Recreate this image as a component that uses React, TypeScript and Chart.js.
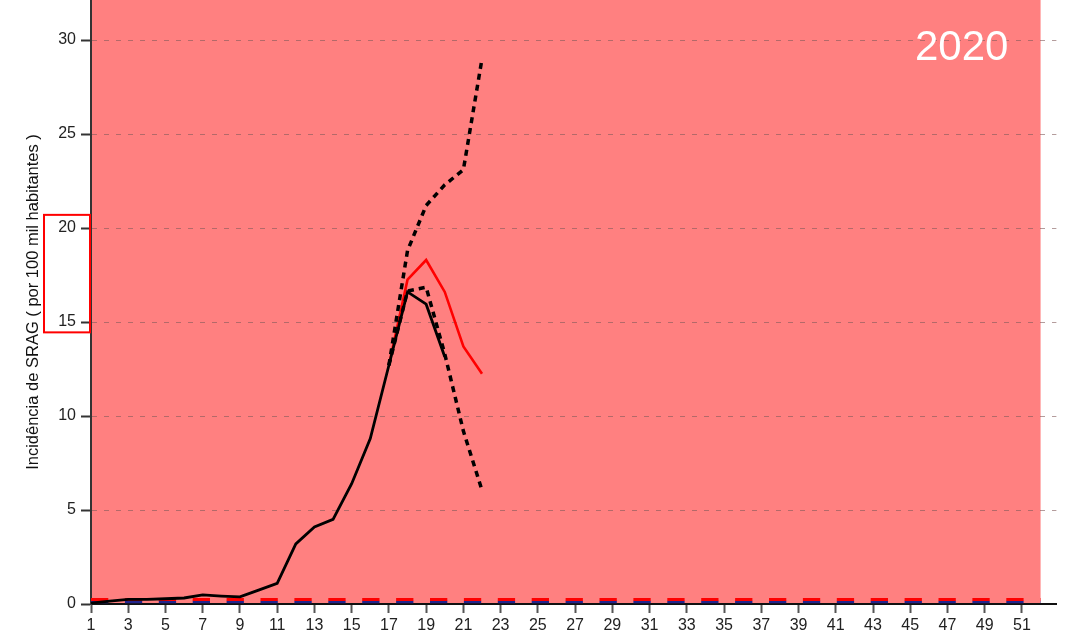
import { useEffect, useRef } from "react";
import { Chart, registerables } from "chart.js";

Chart.register(...registerables);

// ---- data ----
const observedWeeks = [1, 2, 3, 4, 5, 6, 7, 8, 9, 10, 11, 12, 13, 14, 15, 16, 17, 18, 19, 20];
const observedIncidence = [0.05, 0.15, 0.25, 0.25, 0.28, 0.32, 0.48, 0.42, 0.38, 0.74, 1.1, 3.2, 4.1, 4.5, 6.4, 8.8, 12.7, 16.6, 15.95, 13.15];

const nowcastWeeks = [17, 18, 19, 20, 21, 22];
const nowcastEstimate = [12.7, 17.25, 18.3, 16.6, 13.7, 12.25];
const nowcastUpper = [12.7, 18.8, 21.2, 22.3, 23.1, 29.0];
const nowcastLower = [12.7, 16.65, 16.85, 13.3, 9.2, 6.05];

const thresholdWeeks = [1, 52];
const thresholdHigh = [0.24, 0.24];
const thresholdLow = [0.1, 0.1];

const xTickWeeks = [1, 3, 5, 7, 9, 11, 13, 15, 17, 19, 21, 23, 25, 27, 29, 31, 33, 35, 37, 39, 41, 43, 45, 47, 49, 51];
const yTickValues = [0, 5, 10, 15, 20, 25, 30];

const seasonRange = [1, 52];
const highlightRange = [14.45, 20.7];
const yearLabel = "2020";
const yAxisTitle = "Incidência de SRAG ( por 100 mil habitantes )";

const toPoints = (xs: number[], ys: number[]) => xs.map((x, i) => ({ x, y: ys[i] }));

const FONT = "'Liberation Sans', Arial, sans-serif";

const decorPlugin = {
  id: "decor",
  beforeDraw(chart: any) {
    const { ctx, chartArea, scales } = chart;
    const x0 = scales.x.getPixelForValue(seasonRange[0]);
    const x1 = scales.x.getPixelForValue(seasonRange[1]);
    ctx.save();
    ctx.fillStyle = "rgb(255,128,128)";
    ctx.fillRect(x0, chartArea.top, x1 - x0, chartArea.bottom - chartArea.top);
    ctx.restore();
  },
  afterDraw(chart: any) {
    const { ctx, chartArea, scales } = chart;
    const yTop = scales.y.getPixelForValue(highlightRange[1]);
    const yBot = scales.y.getPixelForValue(highlightRange[0]);
    ctx.save();
    ctx.strokeStyle = "#ff0000";
    ctx.lineWidth = 2;
    ctx.strokeRect(chartArea.left - 47, yTop, 46, yBot - yTop);
    ctx.fillStyle = "#ffffff";
    ctx.font = `42px ${FONT}`;
    ctx.textAlign = "right";
    ctx.textBaseline = "alphabetic";
    ctx.fillText(yearLabel, chartArea.right - 48, chartArea.top + 60);
    ctx.restore();
  },
};

export default function App() {
  const canvasRef = useRef<HTMLCanvasElement | null>(null);

  useEffect(() => {
    if (!canvasRef.current) return;
    Chart.defaults.font.family = FONT;
    const chart = new Chart(canvasRef.current, {
      type: "line",
      data: {
        datasets: [
          {
            label: "observed",
            data: toPoints(observedWeeks, observedIncidence),
            borderColor: "#000000",
            borderWidth: 2.8,
            pointRadius: 0,
            tension: 0,
          },
          {
            label: "lower",
            data: toPoints(nowcastWeeks, nowcastLower),
            borderColor: "#000000",
            borderWidth: 3.5,
            borderDash: [6, 5],
            pointRadius: 0,
            tension: 0,
          },
          {
            label: "upper",
            data: toPoints(nowcastWeeks, nowcastUpper),
            borderColor: "#000000",
            borderWidth: 3.5,
            borderDash: [6, 5],
            pointRadius: 0,
            tension: 0,
          },
          {
            label: "estimate",
            data: toPoints(nowcastWeeks, nowcastEstimate),
            borderColor: "#ff0000",
            borderWidth: 2.6,
            pointRadius: 0,
            tension: 0,
          },
          {
            label: "thresholdHigh",
            data: toPoints(thresholdWeeks, thresholdHigh),
            borderColor: "#ff0000",
            borderWidth: 3,
            borderDash: [17.3, 16.6],
            pointRadius: 0,
            tension: 0,
          },
          {
            label: "thresholdLow",
            data: toPoints(thresholdWeeks, thresholdLow),
            borderColor: "#24248c",
            borderWidth: 2.5,
            borderDash: [17.3, 16.6],
            pointRadius: 0,
            tension: 0,
          },
        ],
      },
      options: {
        animation: false,
        responsive: false,
        maintainAspectRatio: false,
        layout: { padding: { left: 0, top: 0, right: 12.6, bottom: 0 } },
        plugins: { legend: { display: false }, tooltip: { enabled: false } },
        scales: {
          x: {
            type: "linear",
            min: 1,
            max: 52.85,
            afterBuildTicks: (axis: any) => {
              axis.ticks = xTickWeeks.map((v) => ({ value: v }));
            },
            afterFit: (scale: any) => {
              scale.height = 29;
              scale.paddingLeft = 0;
              scale.paddingRight = 0;
            },
            grid: {
              drawOnChartArea: false,
              drawTicks: true,
              tickLength: 9,
              tickColor: "#555555",
              tickWidth: 2,
            },
            border: { display: true, color: "#111111", width: 2 },
            ticks: {
              autoSkip: false,
              maxRotation: 0,
              color: "#222222",
              padding: 3,
              font: { size: 16, family: FONT },
              callback: (v: any) => String(v),
            },
          },
          y: {
            type: "linear",
            min: 0,
            max: 32.13,
            afterBuildTicks: (axis: any) => {
              axis.ticks = yTickValues.map((v) => ({ value: v }));
            },
            afterFit: (scale: any) => {
              scale.width = 91;
              scale.paddingTop = 0;
              scale.paddingBottom = 0;
            },
            grid: {
              drawOnChartArea: true,
              drawTicks: true,
              tickLength: 10,
              tickColor: "#333333",
              tickWidth: 2,
              lineWidth: 1,
              color: (c: any) => (c.tick && c.tick.value === 0 ? "rgba(0,0,0,0)" : "rgba(130,90,90,0.6)"),
            },
            border: { display: true, color: "#333333", width: 2, dash: [5, 7] },
            title: {
              display: true,
              text: yAxisTitle,
              color: "#111111",
              font: { size: 16.5, family: FONT },
              padding: { top: 24, bottom: 0 },
            },
            ticks: {
              color: "#222222",
              padding: 5,
              font: { size: 16, family: FONT },
              callback: (v: any) => String(v),
            },
          },
        },
      },
      plugins: [decorPlugin],
    } as any);
    return () => chart.destroy();
  }, []);

  return (
    <div style={{ position: "absolute", left: 0, top: 0, width: 1069, height: 633, background: "#ffffff" }}>
      <canvas ref={canvasRef} width={1069} height={633} style={{ width: 1069, height: 633, display: "block" }} />
    </div>
  );
}
